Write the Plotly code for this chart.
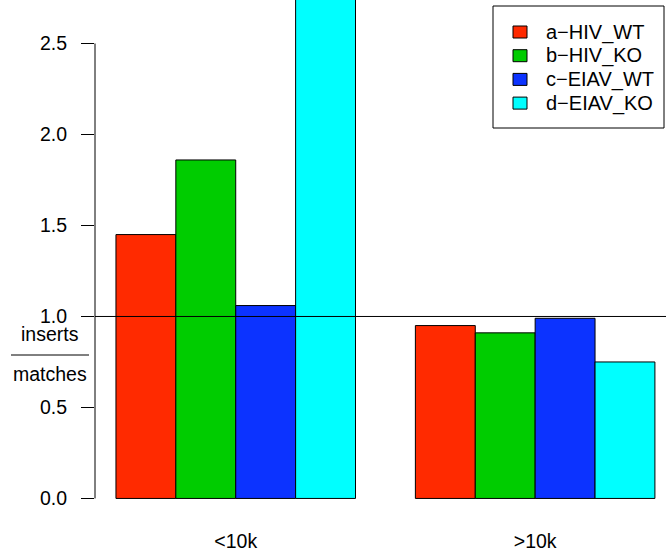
import plotly.graph_objects as go

categories = ["<10k", ">10k"]
series_names = ["a\u2212HIV_WT", "b\u2212HIV_KO", "c\u2212EIAV_WT", "d\u2212EIAV_KO"]
series_values = [
    [1.45, 0.95],
    [1.86, 0.91],
    [1.06, 0.99],
    [3.10, 0.75],
]
series_colors = ["#ff2a00", "#00cc00", "#0c33ff", "#00ffff"]
y_ticks = [0.0, 0.5, 1.0, 1.5, 2.0, 2.5]
ref_line = 1.0

FONT = "Liberation Sans, Arial, Helvetica, sans-serif"

W, H = 666, 555
ml, mr, mt, mb = 95, 0, 0, 50
plot_w = W - ml - mr
plot_h = H - mt - mb

fig = go.Figure()
for name, vals, col in zip(series_names, series_values, series_colors):
    fig.add_trace(go.Bar(
        x=categories, y=vals, name=name, showlegend=False,
        marker=dict(color=col, line=dict(color="black", width=1)),
    ))

fig.update_layout(
    width=W, height=H,
    margin=dict(l=ml, r=mr, t=mt, b=mb, autoexpand=False),
    paper_bgcolor="white", plot_bgcolor="white",
    barmode="group", bargap=0.2, bargroupgap=0,
    font=dict(family=FONT, size=19.5, color="black"),
    showlegend=False,
    xaxis=dict(
        range=[-0.470, 1.437], showgrid=False, zeroline=False,
        showline=False, ticks="", tickfont=dict(size=19.5),
        ticklabelstandoff=22,
    ),
    yaxis=dict(
        range=[-0.036, 2.739], showgrid=False, zeroline=False,
        showline=False, ticks="outside", ticklen=13, tickwidth=1,
        tickcolor="black", tickvals=y_ticks, tickformat=".1f",
        tickfont=dict(size=19.5), ticklabelstandoff=10,
    ),
)

def px_to_px(p):
    return (p - ml) / plot_w

def py_to_py(p):
    return 1 - (p - mt) / plot_h

# y axis line only from 0 to 2.5 (R style)
fig.add_shape(type="line", xref="paper", yref="y", x0=0, x1=0,
              y0=y_ticks[0], y1=y_ticks[-1], line=dict(color="black", width=1))
# reference line at 1.0
fig.add_shape(type="line", xref="paper", yref="y", x0=0, x1=1,
              y0=ref_line, y1=ref_line, line=dict(color="black", width=1))

# fraction y label
fig.add_annotation(text="inserts", xref="paper", yref="paper",
                   x=px_to_px(50), y=py_to_py(334), showarrow=False,
                   font=dict(size=19.5, family=FONT), xanchor="center", yanchor="middle")
fig.add_annotation(text="matches", xref="paper", yref="paper",
                   x=px_to_px(50), y=py_to_py(374), showarrow=False,
                   font=dict(size=19.5, family=FONT), xanchor="center", yanchor="middle")
fig.add_shape(type="line", xref="paper", yref="paper",
              x0=px_to_px(11), x1=px_to_px(89),
              y0=py_to_py(355), y1=py_to_py(355), line=dict(color="black", width=1))

# legend box (R style)
leg_left, leg_right, leg_top, leg_bottom = 493, 664, 6, 128
row0, row_step = 32, 23.7
fig.add_shape(type="rect", xref="paper", yref="paper",
              x0=px_to_px(leg_left), x1=px_to_px(leg_right),
              y0=py_to_py(leg_top), y1=py_to_py(leg_bottom),
              line=dict(color="black", width=1), fillcolor="white", layer="above")
for i, (name, col) in enumerate(zip(series_names, series_colors)):
    yc = row0 + i * row_step
    fig.add_shape(type="rect", xref="paper", yref="paper",
                  x0=px_to_px(513), x1=px_to_px(527),
                  y0=py_to_py(yc - 6), y1=py_to_py(yc + 6),
                  line=dict(color="black", width=1), fillcolor=col, layer="above")
    fig.add_annotation(text=name, xref="paper", yref="paper",
                       x=px_to_px(544), y=py_to_py(yc), showarrow=False,
                       font=dict(size=20, family=FONT), xanchor="left", yanchor="middle")

fig.write_html("out.html", config={"displayModeBar": False},
               post_script="document.body.style.margin='0';")
